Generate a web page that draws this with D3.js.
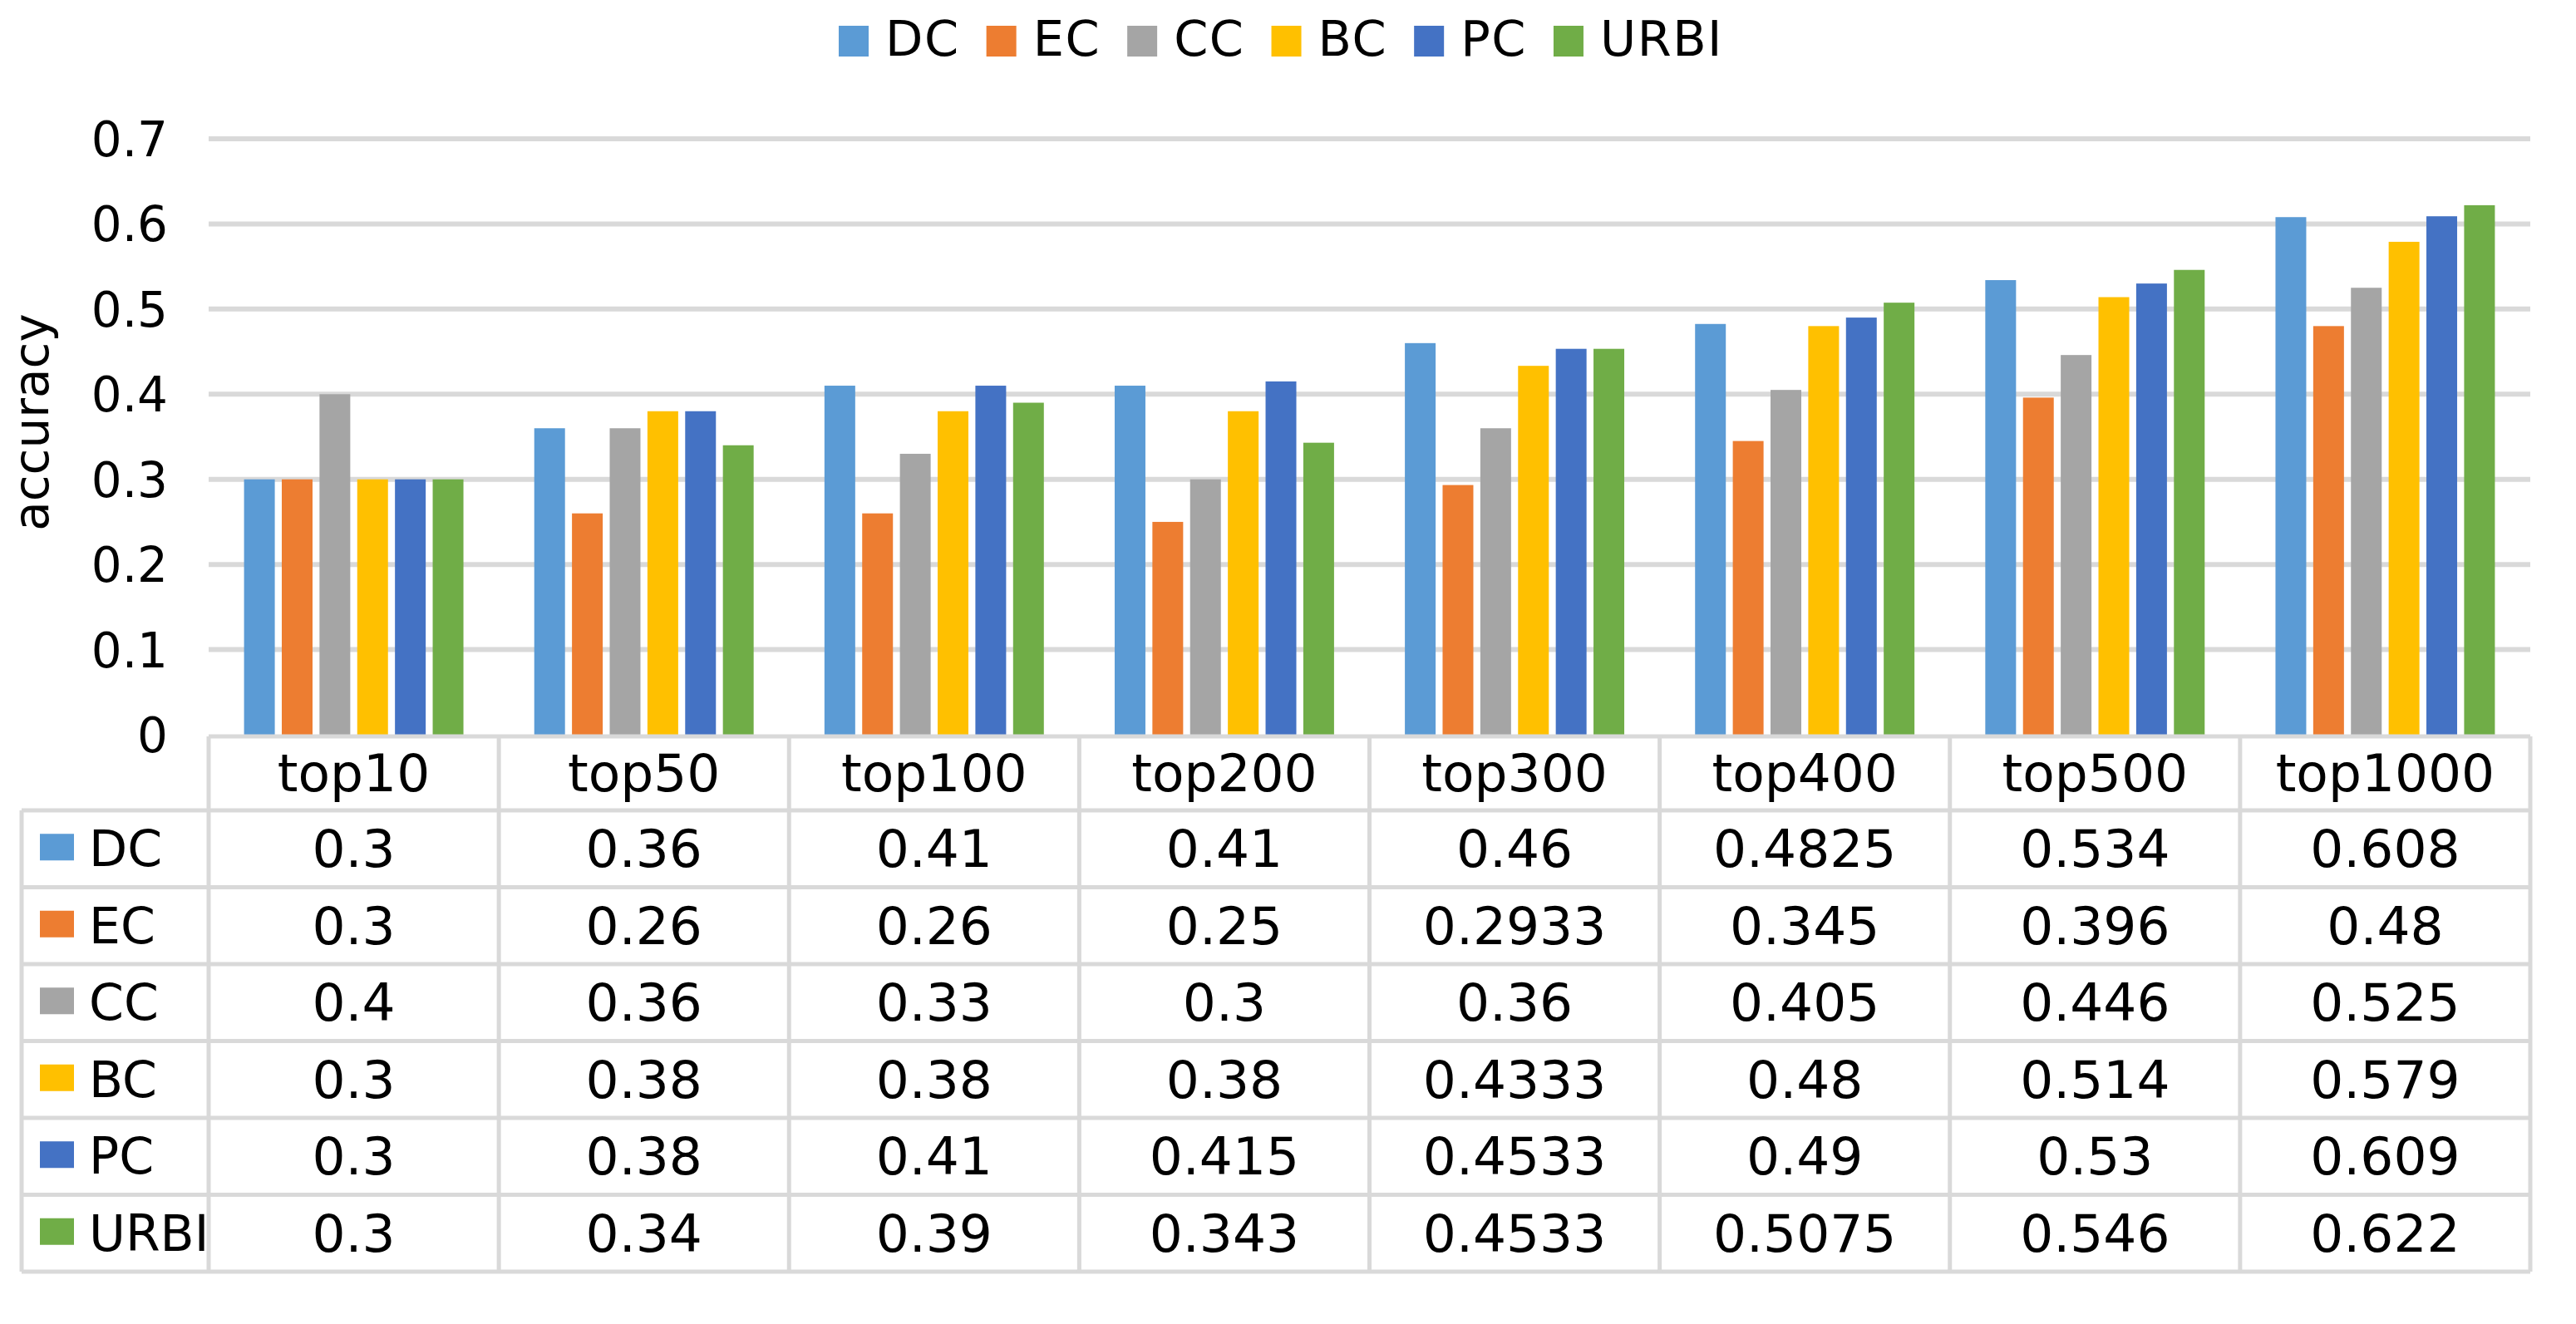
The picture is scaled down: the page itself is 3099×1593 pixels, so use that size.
<!DOCTYPE html>
<html>
<head>
<meta charset="utf-8">
<script src="https://cdn.jsdelivr.net/npm/d3@7"></script>
<style>
  body { margin: 0; background: #fff; }
  text { font-family: "DejaVu Sans", Verdana, sans-serif; fill: #000; }
</style>
</head>
<body>
<svg id="chart" width="3099" height="1593"></svg>
<script>
'use strict';

// Chart data
const categories = ['top10', 'top50', 'top100', 'top200', 'top300', 'top400', 'top500', 'top1000'];
const seriesNames = ['DC', 'EC', 'CC', 'BC', 'PC', 'URBI'];
const seriesColors = ['#5b9bd5', '#ed7d31', '#a5a5a5', '#ffc000', '#4472c4', '#70ad47'];
const dcValues = [0.3, 0.36, 0.41, 0.41, 0.46, 0.4825, 0.534, 0.608];
const ecValues = [0.3, 0.26, 0.26, 0.25, 0.2933, 0.345, 0.396, 0.48];
const ccValues = [0.4, 0.36, 0.33, 0.3, 0.36, 0.405, 0.446, 0.525];
const bcValues = [0.3, 0.38, 0.38, 0.38, 0.4333, 0.48, 0.514, 0.579];
const pcValues = [0.3, 0.38, 0.41, 0.415, 0.4533, 0.49, 0.53, 0.609];
const urbiValues = [0.3, 0.34, 0.39, 0.343, 0.4533, 0.5075, 0.546, 0.622];
const yTicks = [0, 0.1, 0.2, 0.3, 0.4, 0.5, 0.6, 0.7];

const series = seriesNames.map((name, i) => ({
    name: name,
    color: seriesColors[i],
    values: [dcValues, ecValues, ccValues, bcValues, pcValues, urbiValues][i]
}));

const svg = d3.select('#chart');

// Layout
const plotLeft = 251, plotRight = 3044;
const plotTop = 167, plotBottom = 884;
const tableTop = 886, rowTop = 975, rowH = 92.5, tableLeft = 26;
const tableBottom = rowTop + rowH * series.length;
const gridColor = '#d9d9d9';

const x0 = d3.scaleBand()
    .domain(categories)
    .range([plotLeft, plotRight])
    .paddingInner(0.244)
    .paddingOuter(0.122);

const x1 = d3.scaleBand()
    .domain(seriesNames)
    .range([0, x0.bandwidth()])
    .paddingInner(0.185);

const y = d3.scaleLinear().domain([0, 0.7]).range([plotBottom, plotTop]);

// Gridlines
svg.append('g').selectAll('line')
    .data(yTicks.filter(d => d > 0))
    .join('line')
    .attr('x1', plotLeft).attr('x2', plotRight)
    .attr('y1', d => y(d)).attr('y2', d => y(d))
    .attr('stroke', gridColor).attr('stroke-width', 6);

// Y axis labels
svg.append('g').selectAll('text')
    .data(yTicks)
    .join('text')
    .attr('x', 202)
    .attr('y', d => y(d) + 21)
    .attr('text-anchor', 'end')
    .style('font-size', '58px')
    .text(d => d === 0 ? '0' : d3.format('.1f')(d));

// Axis title
svg.append('text')
    .attr('transform', 'translate(58,508) rotate(-90)')
    .attr('text-anchor', 'middle')
    .style('font-size', '58px')
    .text('accuracy');

// Bars
const groups = svg.append('g').selectAll('g')
    .data(series)
    .join('g')
    .attr('fill', d => d.color);

groups.selectAll('rect')
    .data(s => s.values.map((v, i) => ({ name: s.name, cat: categories[i], value: v })))
    .join('rect')
    .attr('x', d => x0(d.cat) + x1(d.name))
    .attr('width', x1.bandwidth())
    .attr('y', d => y(d.value))
    .attr('height', d => y(0) - y(d.value));

// Legend on top
const legend = svg.append('g');
let lx = 0;
series.forEach((s, i) => {
    const item = legend.append('g').attr('transform', `translate(${lx},0)`);
    item.append('rect')
        .attr('x', 0).attr('y', 31)
        .attr('width', 36).attr('height', 37)
        .attr('fill', s.color);
    const t = item.append('text')
        .attr('x', 56).attr('y', 67)
        .style('font-size', '59px')
        .style('letter-spacing', '1.5px')
        .text(s.name);
    lx += 56 + t.node().getComputedTextLength() + 32;
});
legend.attr('transform', 'translate(1009,0)');

// Data table
const table = svg.append('g');
const step = x0.step();

// horizontal lines
table.append('line')
    .attr('x1', plotLeft).attr('x2', plotRight)
    .attr('y1', tableTop).attr('y2', tableTop);
d3.range(series.length + 1).forEach(k => {
    table.append('line')
        .attr('x1', tableLeft).attr('x2', plotRight)
        .attr('y1', rowTop + k * rowH).attr('y2', rowTop + k * rowH);
});
// vertical lines
table.append('line')
    .attr('x1', tableLeft).attr('x2', tableLeft)
    .attr('y1', rowTop).attr('y2', tableBottom);
d3.range(categories.length + 1).forEach(k => {
    table.append('line')
        .attr('x1', plotLeft + k * step).attr('x2', plotLeft + k * step)
        .attr('y1', tableTop).attr('y2', tableBottom);
});
table.selectAll('line')
    .attr('stroke', gridColor)
    .attr('stroke-width', 5);

// header labels
table.append('g').selectAll('text')
    .data(categories)
    .join('text')
    .attr('x', d => x0(d) + x0.bandwidth() / 2)
    .attr('y', (tableTop + rowTop) / 2 + 21)
    .attr('text-anchor', 'middle')
    .style('font-size', '63px')
    .text(d => d);

// row keys and values
series.forEach((s, r) => {
    const cy = rowTop + r * rowH + rowH / 2;
    table.append('rect')
        .attr('x', 48).attr('y', cy - 18)
        .attr('width', 41).attr('height', 32)
        .attr('fill', s.color);
    table.append('text')
        .attr('x', 107).attr('y', cy + 21)
        .style('font-size', '60px')
        .text(s.name);
    table.append('g').selectAll('text')
        .data(s.values)
        .join('text')
        .attr('x', (d, i) => x0(categories[i]) + x0.bandwidth() / 2)
        .attr('y', cy + 22)
        .attr('text-anchor', 'middle')
        .style('font-size', '63px')
        .text(d => String(d));
});
</script>
</body>
</html>
